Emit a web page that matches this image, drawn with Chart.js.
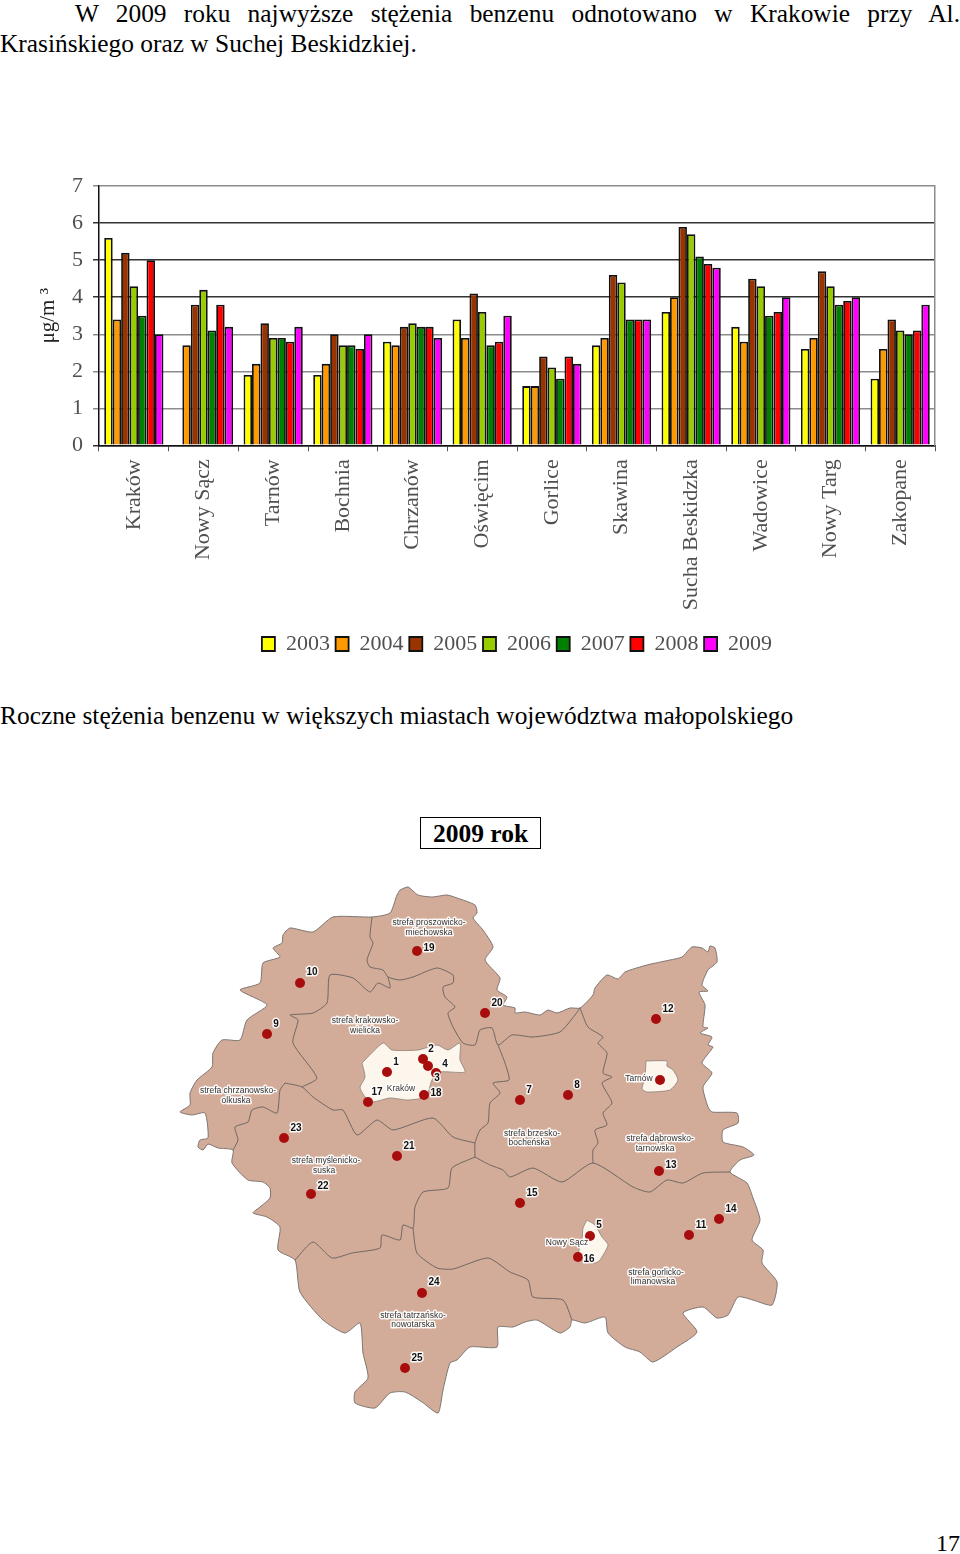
<!DOCTYPE html>
<html>
<head>
<meta charset="utf-8">
<script src="https://cdn.jsdelivr.net/npm/chart.js@4"></script>
<style>
body{margin:0;background:#fff;width:960px;height:1554px;position:relative;overflow:hidden;font-family:"Liberation Serif",serif;color:#000}
.line{position:absolute;white-space:nowrap;font-size:25.4px;line-height:30px}
#intro1{left:75px;top:-2px;width:885px;white-space:normal;text-align:justify;text-align-last:justify}
#intro2{left:0;top:28px}
#caption{left:0;top:700px}
#yearBox{position:absolute;left:420px;top:817px;width:119px;height:30px;border:1px solid #000;text-align:center;font-weight:bold;font-size:25.5px;line-height:32px}
#pageNo{right:0;top:1528px;font-size:24px}
canvas{position:absolute;left:0}
</style>
</head>
<body>
<div class="line" id="intro1">W 2009 roku najwyższe stężenia benzenu odnotowano w Krakowie przy Al.</div>
<div class="line" id="intro2">Krasińskiego oraz w Suchej Beskidzkiej.</div>
<canvas id="barChart" width="960" height="502" style="top:163px"></canvas>
<div class="line" id="caption">Roczne stężenia benzenu w większych miastach województwa małopolskiego</div>
<div id="yearBox">2009 rok</div>
<canvas id="mapChart" width="960" height="560" style="top:870px"></canvas>
<div class="line" id="pageNo">17</div>
<script>
var cities=["Kraków","Nowy Sącz","Tarnów","Bochnia","Chrzanów","Oświęcim","Gorlice","Skawina","Sucha Beskidzka","Wadowice","Nowy Targ","Zakopane"]
var years=["2003","2004","2005","2006","2007","2008","2009"]
var values2003=[5.6,null,1.9,1.9,2.8,3.4,1.6,2.7,3.6,3.2,2.6,1.8]
var values2004=[3.4,2.7,2.2,2.2,2.7,2.9,1.6,2.9,4.0,2.8,2.9,2.6]
var values2005=[5.2,3.8,3.3,3.0,3.2,4.1,2.4,4.6,5.9,4.5,4.7,3.4]
var values2006=[4.3,4.2,2.9,2.7,3.3,3.6,2.1,4.4,5.7,4.3,4.3,3.1]
var values2007=[3.5,3.1,2.9,2.7,3.2,2.7,1.8,3.4,5.1,3.5,3.8,3.0]
var values2008=[5.0,3.8,2.8,2.6,3.2,2.8,2.4,3.4,4.9,3.6,3.9,3.1]
var values2009=[3.0,3.2,3.2,3.0,2.9,3.5,2.2,3.4,4.8,4.0,4.0,3.8]
var yearValues=[values2003,values2004,values2005,values2006,values2007,values2008,values2009]
var yearColors=["#ffff00","#ff9900","#993300","#99cc00","#008000","#ff0000","#ff00ff"]

// map outlines, in page pixels of the scan
var outerBorder=[[400,890],[408,887],[418,895],[432,897],[447,895],[457,898],[475,905],[477,913],[473,918],[483,930],[493,947],[485,960],[500,978],[497,990],[507,997],[503,1005],[515,1008],[515,1013],[525,1012],[540,1015],[548,1010],[557,1013],[570,1008],[580,1008],[593,995],[595,988],[607,975],[618,979],[625,972],[647,965],[670,960],[682,957],[692,947],[702,948],[708,952],[710,946],[715,948],[717,962],[708,970],[702,985],[708,991],[699,992],[705,1005],[703,1027],[708,1028],[700,1033],[712,1037],[708,1045],[713,1047],[702,1063],[712,1073],[703,1087],[708,1107],[712,1112],[737,1113],[738,1123],[723,1130],[723,1142],[743,1147],[754,1155],[740,1160],[730,1172],[747,1183],[753,1198],[760,1220],[752,1240],[763,1250],[762,1263],[777,1282],[772,1305],[753,1300],[738,1297],[728,1315],[717,1318],[703,1307],[683,1313],[697,1332],[677,1347],[653,1362],[640,1352],[625,1347],[608,1333],[605,1317],[585,1323],[572,1320],[570,1327],[560,1333],[537,1320],[525,1322],[513,1327],[498,1327],[497,1347],[470,1347],[457,1360],[450,1363],[443,1390],[438,1413],[422,1402],[405,1392],[390,1393],[375,1408],[355,1403],[355,1392],[368,1378],[363,1353],[360,1323],[345,1333],[323,1320],[300,1292],[295,1260],[278,1250],[280,1227],[267,1217],[253,1213],[260,1207],[270,1198],[270,1188],[263,1182],[248,1180],[232,1163],[233,1150],[218,1148],[208,1144],[203,1150],[198,1147],[200,1140],[208,1138],[205,1113],[192,1115],[180,1112],[190,1105],[190,1093],[197,1080],[212,1067],[213,1053],[222,1040],[240,1040],[247,1020],[267,1005],[240,990],[260,983],[263,963],[280,957],[273,948],[282,943],[283,935],[290,928],[313,932],[333,917],[372,917],[390,913],[397,895],[400,890]]
var borderProszowice=[[372,917],[370,937],[373,943],[367,960],[370,967],[383,970],[388,977],[400,980],[413,977],[437,968],[453,975],[453,983],[443,987],[445,997],[455,1007],[448,1013],[453,1027],[463,1043],[475,1045],[480,1030],[492,1028],[498,1045],[512,1035],[533,1037],[560,1032],[575,1015],[580,1008]]
var borderDabrowa=[[580,1008],[588,1027],[603,1037],[598,1043],[607,1053],[603,1073],[612,1077],[602,1083],[612,1103],[603,1113],[607,1125],[595,1130],[598,1143],[593,1150],[593,1163]]
var borderWieliczkaEast=[[498,1045],[505,1063],[509,1080],[493,1083],[500,1093],[490,1103],[488,1123],[480,1130],[475,1143],[475,1157]]
var borderBrzeskoSouth=[[475,1157],[490,1165],[503,1170],[510,1177],[533,1168],[562,1182],[593,1163],[633,1187],[650,1192],[667,1180],[683,1183],[703,1173],[730,1172]]
var borderMyslenice=[[475,1157],[452,1168],[448,1188],[423,1192],[415,1207],[413,1228],[403,1225],[400,1240],[382,1235],[380,1248],[352,1253],[332,1258],[313,1242],[295,1260]]
var borderTatry=[[413,1228],[417,1253],[437,1268],[453,1269],[488,1258],[510,1272],[528,1280],[533,1297],[563,1300],[572,1320]]
var borderWieliczkaSouth=[[285,1083],[302,1087],[313,1097],[333,1110],[343,1110],[357,1135],[377,1120],[393,1130],[433,1118],[453,1137],[475,1143]]
var borderChrzanow=[[388,977],[390,988],[378,983],[370,992],[353,978],[330,975],[327,1003],[313,1013],[290,1015],[298,1020],[293,1043],[317,1078],[302,1087]]
var borderChrzanowSouth=[[285,1083],[280,1090],[277,1113],[263,1107],[252,1110],[248,1122],[235,1127],[238,1140],[233,1150]]
var zoneBorders=[borderProszowice,borderDabrowa,borderWieliczkaEast,borderBrzeskoSouth,borderMyslenice,borderTatry,borderWieliczkaSouth,borderChrzanow,borderChrzanowSouth]
var cityKrakow=[[362,1063],[383,1043],[392,1050],[418,1050],[437,1045],[448,1050],[460,1043],[460,1060],[465,1072],[440,1072],[432,1080],[428,1093],[423,1098],[407,1100],[390,1098],[370,1102],[360,1088],[365,1077],[362,1063]]
var cityTarnow=[[646,1061],[667,1061],[667,1066],[673,1070],[678,1080],[670,1090],[647,1092],[642,1089],[645,1077],[646,1061]]
var cityNowySacz=[[587,1220],[595,1225],[602,1237],[608,1245],[600,1260],[595,1263],[578,1258],[582,1240],[583,1228],[587,1220]]
var cityShapes=[cityKrakow,cityTarnow,cityNowySacz]

var stationPoints=[[387,1072],[423,1059],[436,1073],[428,1066],[590,1236],[660,1080],[520,1100],[568,1095],[267,1034],[300,983],[689,1235],[656,1019],[659,1171],[719,1219],[520,1203],[578,1257],[368,1102],[424,1095],[417,951],[485,1013],[397,1156],[311,1194],[284,1138],[422,1293],[405,1368]]
var stationNumbers=["1","2","3","4","5","","7","8","9","10","11","12","13","14","15","16","17","18","19","20","21","22","23","24","25"]
var stationNumberSpots=[[396,1062],[431,1049],[437,1078],[445,1064],[599,1225],[660,1080],[529,1090],[577,1085],[276,1024],[312,972],[701,1225],[668,1009],[671,1165],[731,1209],[532,1193],[589,1259],[377,1092],[436,1093],[429,948],[497,1003],[409,1146],[323,1186],[296,1128],[434,1282],[417,1358]]
var zoneNames=["strefa proszowicko-","miechowska","strefa krakowsko-","wielicka","strefa chrzanowsko-","olkuska","Kraków","Tarnów","strefa brzesko-","bocheńska","strefa dąbrowsko-","tarnowska","strefa myślenicko-","suska","Nowy Sącz","strefa gorlicko-","limanowska","strefa tatrzańsko-","nowotarska"]
var zoneNameSpots=[[429,923],[429,933],[365,1021],[365,1031],[238,1091],[236,1101],[401,1089],[639,1079],[532,1134],[529,1143],[660,1139],[655,1149],[326,1161],[324,1171],[567,1243],[656,1273],[653,1282],[413,1316],[413,1325]]

var serif="'Liberation Serif', serif"
var inkColor="#505050"
var darkGridLines=[0,4,5,6]

var barDatasets=[]
for(var i=0;i<years.length;i++){
    barDatasets.push({
        label:years[i],
        data:yearValues[i],
        backgroundColor:yearColors[i],
        borderColor:"#111",
        borderWidth:1.8,
        categoryPercentage:0.85,
        barPercentage:1
    })
}

new Chart(document.getElementById("barChart"),{
    type:"bar",
    data:{labels:cities,datasets:barDatasets},
    options:{
        responsive:false,
        animation:false,
        layout:{padding:{top:15,bottom:0}},
        plugins:{
            tooltip:{enabled:false},
            legend:{
                position:"bottom",
                fullSize:false,
                labels:{boxWidth:13,boxHeight:14,padding:5.7,color:inkColor,font:{family:serif,size:22}}
            }
        },
        scales:{
            x:{
                afterFit:function(scale){scale.height=182},
                grid:{drawOnChartArea:false,tickLength:6,color:"#555"},
                border:{color:"#111",width:1.5},
                ticks:{minRotation:90,maxRotation:90,autoSkip:false,padding:8,color:inkColor,font:{family:serif,size:22}}
            },
            y:{
                min:0,max:7,
                afterFit:function(scale){scale.width=99},
                title:{display:true,text:"μg/m ³",color:"#222",font:{family:serif,size:21},padding:{top:36,bottom:0}},
                grid:{tickLength:6,lineWidth:1.5,color:function(c){return darkGridLines.indexOf(c.tick.value)>=0?"#333":"#8c8c8c"}},
                border:{color:"#111",width:1.5},
                ticks:{stepSize:1,padding:10,color:inkColor,font:{family:serif,size:22}}
            },
            y2:{
                position:"right",
                min:0,max:7,
                afterFit:function(scale){scale.width=25},
                grid:{display:false},
                border:{color:"#8c8c8c",width:1.5},
                ticks:{display:false}
            }
        }
    }
})

function drawHaloText(ctx,text,x,y,font,color){
    ctx.font=font
    ctx.textAlign="center"
    ctx.textBaseline="middle"
    ctx.lineJoin="round"
    ctx.lineWidth=3
    ctx.strokeStyle="rgba(255,255,255,0.9)"
    ctx.strokeText(text,x,y)
    ctx.fillStyle=color
    ctx.fillText(text,x,y)
}

var mapLabels={
    id:"mapLabels",
    afterDatasetsDraw:function(chart){
        var ctx=chart.ctx,sx=chart.scales.x,sy=chart.scales.y
        ctx.save()
        zoneNames.forEach(function(name,i){
            var p=zoneNameSpots[i]
            drawHaloText(ctx,name,sx.getPixelForValue(p[0]),sy.getPixelForValue(p[1]),"8.5px 'Liberation Sans'","#333")
        })
        stationNumbers.forEach(function(num,i){
            var p=stationNumberSpots[i]
            if(num=="") return
            drawHaloText(ctx,num,sx.getPixelForValue(p[0]),sy.getPixelForValue(p[1]),"bold 10px 'Liberation Sans'","#111")
        })
        ctx.restore()
    }
}

var mapDatasets=[{
    data:stationPoints,
    showLine:false,
    pointRadius:5,
    pointBackgroundColor:"#a80d0d",
    pointBorderWidth:0,
    order:0
}]
cityShapes.forEach(function(shape){
    mapDatasets.push({data:shape,fill:"shape",backgroundColor:"#fdf6ec",borderColor:"#8a8078",borderWidth:0.8,pointRadius:0,tension:0.2,order:1})
})
zoneBorders.forEach(function(line){
    mapDatasets.push({data:line,fill:false,borderColor:"#6f6863",borderWidth:1,pointRadius:0,tension:0.2,order:2})
})
mapDatasets.push({data:outerBorder,fill:"shape",backgroundColor:"#d2ab99",borderColor:"#7d7570",borderWidth:1,pointRadius:0,tension:0.2,order:3})

new Chart(document.getElementById("mapChart"),{
    type:"line",
    data:{datasets:mapDatasets},
    options:{
        responsive:false,
        animation:false,
        layout:{autoPadding:false},
        plugins:{legend:{display:false},tooltip:{enabled:false}},
        scales:{
            x:{type:"linear",display:false,min:0,max:960},
            y:{type:"linear",display:false,min:870,max:1430,reverse:true}
        }
    },
    plugins:[mapLabels]
})
</script>
</body>
</html>
